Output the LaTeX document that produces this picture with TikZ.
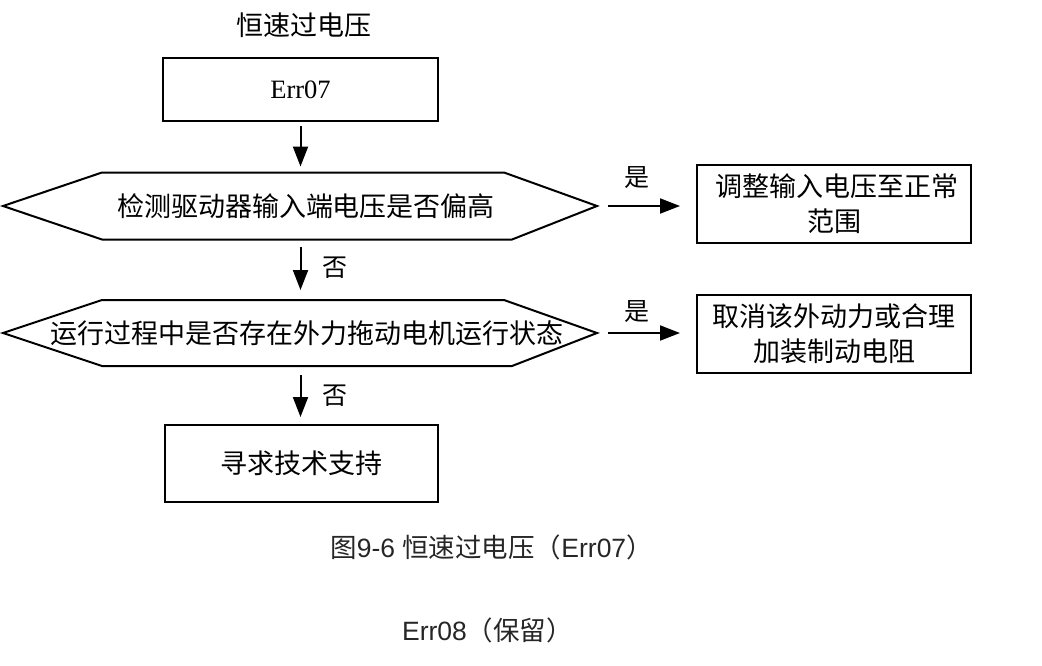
\documentclass[tikz,border=0pt]{standalone}
\usepackage{fontspec}
\setmainfont{Liberation Serif}
\newfontfamily\cjk{Noto Sans CJK SC}
\newfontfamily\arialf{Liberation Sans}
\usetikzlibrary{arrows.meta}
\tikzset{
  lw/.style={line width=2pt},
  boxnode/.style={draw, lw, minimum width=274pt, inner sep=0pt, outer sep=0pt, align=center, font=\cjk\fontsize{27}{35}\selectfont},
  hexnode/.style={minimum width=594pt, inner sep=0pt, outer sep=0pt, font=\cjk\fontsize{27}{35}\selectfont},
  arr/.style={lw, -{Triangle[length=20pt,width=15pt]}},
  lbl/.style={inner sep=0pt, font=\cjk\fontsize{25}{28}\selectfont},
  captext/.style={inner sep=0pt, text=black!85, font=\fontsize{26.5}{30}\selectfont},
}
\newcommand\hexoutline[1]{%
  \draw[lw, line join=miter] (#1.west) -- ([xshift=99pt]#1.north west) -- ([xshift=-93pt]#1.north east)
    -- (#1.east) -- ([xshift=-85pt]#1.south east) -- ([xshift=99pt]#1.south west) -- cycle;}
\begin{document}
\begin{tikzpicture}[x=1pt,y=-1pt]
\useasboundingbox (0,0) rectangle (1042,665);
% title
\node[lbl, font=\cjk\fontsize{27}{30}\selectfont] (title) at (303.5,25) {恒速过电压};
% main column
\node[boxnode, minimum width=275pt, minimum height=63pt, font=\fontsize{26.5}{30}\selectfont] (err) at (300.5,89.5) {Err07};
\node[hexnode, minimum height=67pt] (h1) at (300,206) {\hspace*{12pt}检测驱动器输入端电压是否偏高};
\hexoutline{h1}
\node[hexnode, minimum height=66pt] (h2) at (300,333) {\hspace*{14pt}运行过程中是否存在外力拖动电机运行状态};
\hexoutline{h2}
\node[boxnode, minimum width=273pt, minimum height=77pt] (sup) at (301.5,463.5) {寻求技术支持};
% right column
\node[boxnode, minimum height=78pt] (adj) at (834,204) {\hspace*{6pt}调整输入电压至正常\\范围};
\node[boxnode, minimum height=78pt] (rem) at (834,334) {取消该外动力或合理\\加装制动电阻};
% connectors
\draw[arr, shorten <=5pt, shorten >=6pt] (err.south) -- (err.south |- h1.north);
\draw[arr, shorten <=7pt, shorten >=10pt] (err.south |- h1.south) -- (err.south |- h2.north);
\draw[arr, shorten <=9pt, shorten >=8pt] (err.south |- h2.south) -- (err.south |- sup.north);
\draw[arr, shorten <=11pt, shorten >=17pt] (h1.east) -- (h1.east -| adj.west);
\draw[arr, shorten <=11pt, shorten >=17pt] (h2.east) -- (h2.east -| rem.west);
% labels
\node[lbl] (no1) at (335,268) {否};
\node[lbl] (no2) at (335,396) {否};
\node[lbl] (yes1) at (637,178) {是};
\node[lbl] (yes2) at (637,312) {是};
% captions
\node[captext] (cap) at (491.5,547)
  {{\cjk 图}{\arialf 9-6 }{\cjk 恒速过电压（}{\arialf Err07}{\cjk ）}};
\node[captext] (cap2) at (487.5,630)
  {{\arialf Err08}{\cjk （保留）}};
\end{tikzpicture}
\end{document}
